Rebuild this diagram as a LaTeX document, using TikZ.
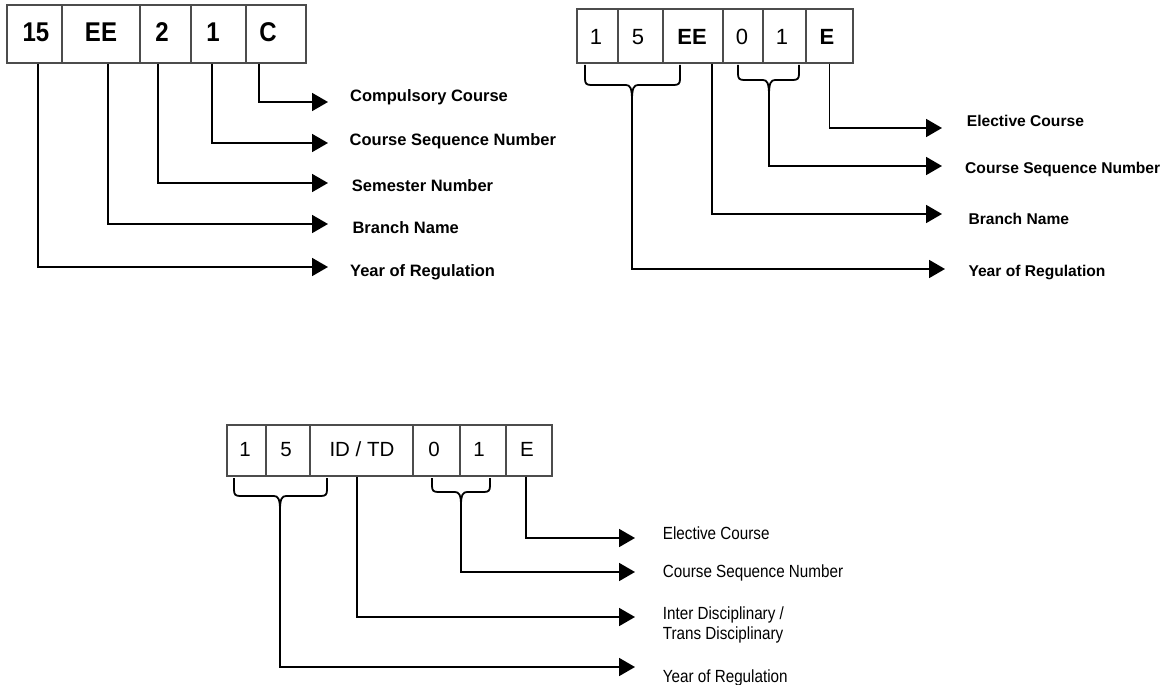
\documentclass[tikz,border=0pt]{standalone}
\usepackage{fontspec}
\setmainfont{Liberation Sans}
\newfontfamily\narrowfont[FakeStretch=0.865]{Liberation Sans}
\usetikzlibrary{arrows.meta}
\newcommand{\mybrace}[6]{%
  \draw[brace] (#1,#3) -- (#1,#4-6) .. controls (#1,#4-1.5) and (#1+1.5,#4) .. (#1+6,#4)
     -- (#5-6,#4) .. controls (#5-2,#4) and (#5,#4+3) .. (#5,#6);
  \draw[brace] (#2,#3) -- (#2,#4-6) .. controls (#2,#4-1.5) and (#2-1.5,#4) .. (#2-6,#4)
     -- (#5+6,#4) .. controls (#5+2,#4) and (#5,#4+3) .. (#5,#6);}
\newcommand{\tallA}[1]{\scalebox{1}[1.13]{#1}}
\begin{document}
\begin{tikzpicture}[x=1pt,y=-1pt,
  cell/.style={draw=black!70, line width=1.1pt, inner sep=0pt},
  con/.style={line width=1.8pt, -{Triangle[length=16pt,width=18pt]}},
  brace/.style={line width=1.8pt},
  ta/.style={font=\fontsize{24}{24}\selectfont\bfseries, inner sep=0pt},
  tb/.style={font=\fontsize{22}{22}\selectfont, inner sep=0pt},
  tbb/.style={font=\fontsize{22}{22}\selectfont\bfseries, inner sep=0pt},
  tc/.style={font=\fontsize{20.5}{20.5}\selectfont, inner sep=0pt},
  la/.style={font=\fontsize{16.5}{18}\selectfont\bfseries, inner sep=0pt, anchor=base west},
  lb/.style={font=\fontsize{15.6}{18}\selectfont\bfseries, inner sep=0pt, anchor=base west},
  lc/.style={font=\fontsize{17.6}{20}\selectfont\narrowfont, inner sep=0pt, anchor=base west},
]
\useasboundingbox (0,0) rectangle (1173,685);

% ---------------- Diagram 1 ----------------
\node[cell, minimum width=55pt, minimum height=58pt] (a1) at (34.5,34) {};
\node[cell, minimum width=78pt, minimum height=58pt] (a2) at (101,34) {};
\node[cell, minimum width=51pt, minimum height=58pt] (a3) at (165.5,34) {};
\node[cell, minimum width=55pt, minimum height=58pt] (a4) at (218.5,34) {};
\node[cell, minimum width=60pt, minimum height=58pt] (a5) at (276,34) {};
\node[ta] (a1t) at (36,32) {\tallA{15}};
\node[ta] (a2t) at (101,32) {\tallA{EE}};
\node[ta] (a3t) at (162,32) {\tallA{2}};
\node[ta] (a4t) at (213,32) {\tallA{1}};
\node[ta] (a5t) at (268,32) {\tallA{C}};

\node[la] (la5) at (350,101.7) {Compulsory Course};
\node[la] (la4) at (349.5,145) {Course Sequence Number};
\node[la] (la3) at (351.7,191.7) {Semester Number};
\node[la] (la2) at (352.3,233.3) {Branch Name};
\node[la] (la1) at (350,276.7) {Year of Regulation};

\coordinate (e5) at (328,102);
\coordinate (e4) at (328,143);
\coordinate (e3) at (328,183);
\coordinate (e2) at (328,224);
\coordinate (e1) at (328,267);
\draw[con] ([xshift=-17pt]a5.south) |- (e5);
\draw[con] ([xshift=-6.5pt]a4.south) |- (e4);
\draw[con] ([xshift=-7.5pt]a3.south) |- (e3);
\draw[con] ([xshift=7pt]a2.south) |- (e2);
\draw[con] ([xshift=3.5pt]a1.south) |- (e1);

% ---------------- Diagram 2 ----------------
\node[cell, minimum width=41pt, minimum height=54pt] (b1) at (597.5,36) {};
\node[cell, minimum width=45pt, minimum height=54pt] (b2) at (640.5,36) {};
\node[cell, minimum width=60pt, minimum height=54pt] (b3) at (693,36) {};
\node[cell, minimum width=40pt, minimum height=54pt] (b4) at (743,36) {};
\node[cell, minimum width=43pt, minimum height=54pt] (b5) at (784.5,36) {};
\node[cell, minimum width=47pt, minimum height=54pt] (b6) at (829.5,36) {};
\node[tb] (b1t) at (596,36.7) {1};
\node[tb] (b2t) at (638,36.7) {5};
\node[tbb] (b3t) at (692,36.7) {EE};
\node[tb] (b4t) at (742,36.7) {0};
\node[tb] (b5t) at (782,36.7) {1};
\node[tbb] (b6t) at (827,36.7) {E};

\node[lb] (lb4) at (966.7,126) {Elective Course};
\node[lb] (lb3) at (965,173.3) {Course Sequence Number};
\node[lb] (lb2) at (968.3,224) {Branch Name};
\node[lb] (lb1) at (968.3,276.7) {Year of Regulation};

\mybrace{585}{680}{65}{85}{632}{100}
\mybrace{738}{799}{65}{80}{769}{95}
\coordinate (bb1) at (632,100);
\coordinate (bb2) at (769,95);
\coordinate (f4) at (942,128);
\coordinate (f3) at (942,166);
\coordinate (f2) at (942,214);
\coordinate (f1) at (945,269);
\draw[con] (b6.south) |- (f4);
\draw[con] (bb2) |- (f3);
\draw[con] ([xshift=19pt]b3.south) |- (f2);
\draw[con] (bb1) |- (f1);

% ---------------- Diagram 3 ----------------
\node[cell, minimum width=39pt, minimum height=51pt] (c1) at (246.5,450.5) {};
\node[cell, minimum width=44pt, minimum height=51pt] (c2) at (288,450.5) {};
\node[cell, minimum width=103pt, minimum height=51pt] (c3) at (361.5,450.5) {};
\node[cell, minimum width=47pt, minimum height=51pt] (c4) at (436.5,450.5) {};
\node[cell, minimum width=46pt, minimum height=51pt] (c5) at (483,450.5) {};
\node[cell, minimum width=46pt, minimum height=51pt] (c6) at (529,450.5) {};
\node[tc] (c1t) at (245,449.5) {1};
\node[tc] (c2t) at (286,449.5) {5};
\node[tc] (c3t) at (362,449.5) {ID / TD};
\node[tc] (c4t) at (434,449.5) {0};
\node[tc] (c5t) at (479,449.5) {1};
\node[tc] (c6t) at (527,449.5) {E};

\node[lc] (lc4) at (662.7,539.3) {Elective Course};
\node[lc] (lc3) at (662.7,577.3) {Course Sequence Number};
\node[lc, anchor=west, align=left] (lc2) at (662.7,624.8) {Inter Disciplinary /\\Trans Disciplinary};
\node[lc] (lc1) at (662.7,682.7) {Year of Regulation};

\mybrace{234}{327}{478}{496}{280}{510}
\mybrace{432}{490}{478}{492}{461}{505}
\coordinate (cb1) at (280,510);
\coordinate (cb2) at (461,505);
\coordinate (g4) at (635,538);
\coordinate (g3) at (635,572);
\coordinate (g2) at (635,617);
\coordinate (g1) at (635,667);
\draw[con] ([xshift=-3pt]c6.south) |- (g4);
\draw[con] (cb2) |- (g3);
\draw[con] ([xshift=-4.5pt]c3.south) |- (g2);
\draw[con] (cb1) |- (g1);
\end{tikzpicture}
\end{document}
